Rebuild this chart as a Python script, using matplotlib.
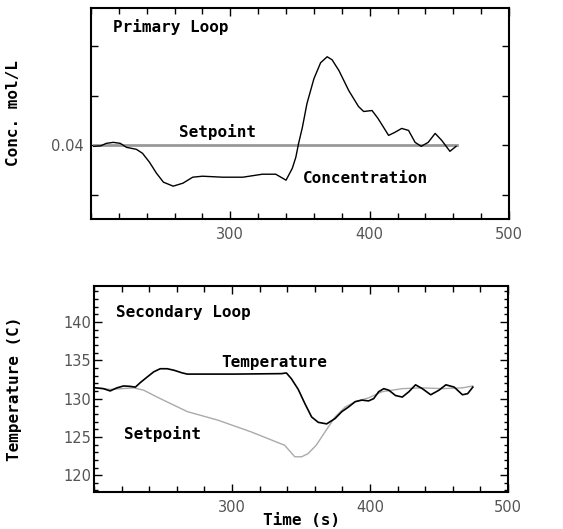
import numpy as np
import matplotlib.pyplot as plt
from matplotlib.ticker import FixedLocator, MultipleLocator, FixedFormatter

# Primary loop: concentration (mol/L) vs time (s)
conc_t = [202, 207, 211, 216, 221, 225.5, 232.6, 237, 242, 247, 252, 259, 266, 273, 280,
          294.5, 309, 323, 332.6, 340, 344.5, 347, 349, 351.7, 355, 360, 364.8, 369.5, 373,
          378, 385, 392, 395.7, 401.7, 406, 413.6, 418, 423, 427.9, 432.6, 437, 442, 447,
          451.7, 457.6, 462]
conc_v = [0.0399, 0.03995, 0.0402, 0.0403, 0.0402, 0.0398, 0.0396, 0.0392, 0.0383, 0.0372,
          0.0363, 0.0359, 0.0362, 0.0368, 0.0369, 0.0368, 0.0368, 0.0371, 0.0371, 0.0365,
          0.0377, 0.0388, 0.0402, 0.0418, 0.0442, 0.0467, 0.0483, 0.0489, 0.0486, 0.0475,
          0.0455, 0.0439, 0.0434, 0.0435, 0.0427, 0.0410, 0.0413, 0.0417, 0.0415, 0.0403,
          0.0399, 0.0403, 0.0412, 0.0405, 0.0394, 0.0399]
conc_setpoint_t = [202, 463]
conc_setpoint_v = [0.04, 0.04]

# Secondary loop: temperature (C) vs time (s)
temp_t = [200, 206.8, 211.7, 216.5, 221.4, 226, 230, 233.6, 238.4, 243.3, 248, 253, 258, 264,
          267.6, 301.7, 335.8, 339.4, 343, 348, 352.8, 357.7, 362.5, 368.6, 374.7, 379.6,
          384.4, 389.3, 394, 399, 402.7, 406.3, 410, 413.6, 418.5, 423.4, 428.2, 433, 437.9,
          444, 450, 455, 461, 467, 470.8, 474.5]
temp_v = [131.43, 131.3, 131.0, 131.4, 131.65, 131.6, 131.5, 132.1, 132.8, 133.5, 133.9,
          133.9, 133.7, 133.35, 133.2, 133.2, 133.26, 133.35, 132.6, 131.2, 129.35, 127.6,
          126.9, 126.7, 127.4, 128.3, 128.9, 129.6, 129.8, 129.7, 130.0, 130.9, 131.3, 131.1,
          130.4, 130.2, 130.9, 131.8, 131.3, 130.5, 131.1, 131.8, 131.5, 130.5, 130.65, 131.5]
temp_sp_t = [200, 211.7, 228.7, 236, 245.7, 255.5, 267.6, 289.5, 313.9, 338.2, 345.5, 350.4,
             355, 361, 367.4, 374.7, 382, 389.3, 399, 408.8, 423.4, 437.9, 452.5, 467, 474.5]
temp_sp_v = [131.43, 131.2, 131.4, 131.1, 130.2, 129.35, 128.3, 127.2, 125.65, 123.9, 122.4,
             122.4, 122.8, 123.9, 125.65, 127.6, 128.9, 129.6, 130.1, 130.9, 131.3, 131.4,
             131.3, 131.4, 131.65]

LBL = dict(family="DejaVu Sans Mono", fontweight="bold", fontsize=11.5, color="black")

fig = plt.figure(figsize=(5.63, 5.29), dpi=100)
ax1 = fig.add_axes([0.1616, 0.586, 0.7425, 0.3989])
ax2 = fig.add_axes([0.167, 0.0699, 0.7353, 0.3894])

for ax in (ax1, ax2):
    ax.set_xlim(200, 500)
    ax.xaxis.set_major_locator(FixedLocator([300, 400, 500]))
    ax.xaxis.set_minor_locator(MultipleLocator(20))
    ax.tick_params(which="both", direction="in", top=True, right=True, colors="black")
    ax.tick_params(which="major", length=6, width=1)
    ax.tick_params(which="minor", length=4, width=1)
    ax.tick_params(axis="x", pad=6, labelsize=10.5, labelcolor="#555555")
    ax.tick_params(axis="y", labelsize=10.5, labelcolor="#555555")
    for s in ax.spines.values():
        s.set_linewidth(1.5)

# Top panel
ax1.plot(conc_setpoint_t, conc_setpoint_v, color="#999999", lw=2)
ax1.plot(conc_t, conc_v, color="black", lw=1)
ax1.set_ylim(0.0326, 0.0538)
ax1.yaxis.set_major_locator(FixedLocator([0.035, 0.04, 0.045, 0.05]))
ax1.yaxis.set_major_formatter(FixedFormatter(["", "0.04", "", ""]))
ax1.yaxis.set_minor_locator(FixedLocator([]))
ax1.tick_params(axis="y", which="major", length=5, pad=5)
ax1.set_ylabel("Conc. mol/L", labelpad=22, **LBL)
ax1.text(216, 0.0514, "Primary Loop", **LBL)
ax1.text(263, 0.0408, "Setpoint", **LBL)
ax1.text(352, 0.0362, "Concentration", **LBL)

# Bottom panel
ax2.plot(temp_sp_t, temp_sp_v, color="#aaaaaa", lw=1)
ax2.plot(temp_t, temp_v, color="black", lw=1.2)
ax2.set_ylim(117.8, 144.7)
ax2.yaxis.set_major_locator(FixedLocator([120, 125, 130, 135, 140]))
ax2.yaxis.set_minor_locator(MultipleLocator(1))
ax2.tick_params(axis="y", which="major", length=6, pad=2)
ax2.tick_params(axis="y", which="minor", length=3)
ax2.set_ylabel("Temperature (C)", labelpad=30, **LBL)
ax2.set_xlabel("Time (s)", labelpad=-2, **LBL)
ax2.text(216, 140.6, "Secondary Loop", **LBL)
ax2.text(292, 134.1, "Temperature", **LBL)
ax2.text(222, 124.7, "Setpoint", **LBL)

fig.savefig("out.png", dpi=100)
